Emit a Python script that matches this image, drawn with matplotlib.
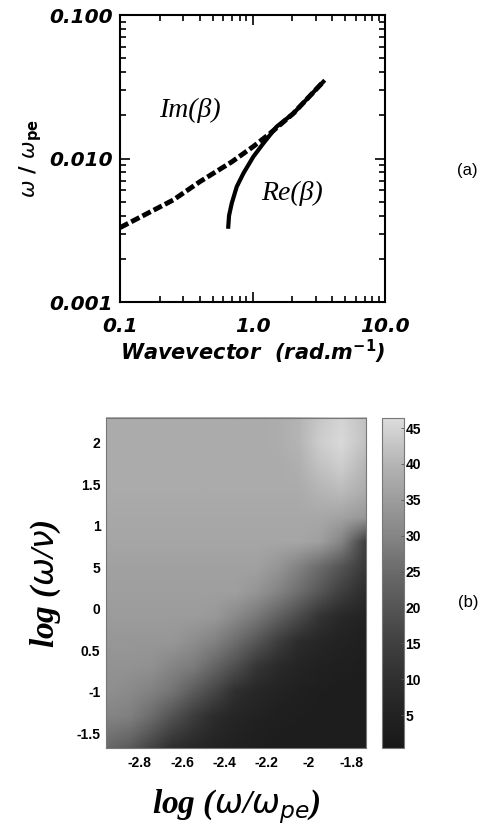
import numpy as np
import matplotlib.pyplot as plt
from matplotlib.colors import LinearSegmentedColormap, Normalize
from matplotlib.image import NonUniformImage
from matplotlib.ticker import LogLocator, FixedLocator, NullFormatter

# (a) dispersion curves
k_im = [0.10, 0.252, 0.40, 0.70, 1.01, 1.36, 2.03, 3.42]
w_im = [0.0033, 0.00514, 0.00689, 0.0095, 0.0121, 0.0150, 0.0206, 0.0343]
k_re = [0.656, 0.665, 0.697, 0.760, 0.853, 1.014, 1.208, 1.52, 2.03, 3.42]
w_re = [0.00335, 0.0040, 0.00488, 0.00636, 0.00788, 0.0103, 0.01277, 0.01667, 0.0206, 0.0343]

# (b) map, node coordinates and values (rows from top to bottom)
map_x = [-2.96, -2.85, -2.75, -2.65, -2.55, -2.45, -2.35, -2.25, -2.15, -2.05, -1.95, -1.85, -1.73]
map_y = [2.3, 2.0, 1.7, 1.4, 1.1, 0.8, 0.5, 0.2, -0.1, -0.4, -0.7, -1.0, -1.3, -1.68]
map_z = [
    [38, 38, 38, 38, 38, 38, 38, 38, 38.5, 40, 43, 45, 42],
    [38, 38, 38, 38, 38, 38, 38, 38, 38.5, 40, 44, 46, 42],
    [38, 38, 38, 38, 38, 38, 38, 38, 38, 39, 42, 44, 40],
    [38, 38, 38, 38, 38, 38, 38, 38, 38, 38, 40, 41, 38],
    [37.5, 37.5, 37.5, 37.5, 37.5, 37.5, 37.5, 37.5, 37.5, 37.5, 37.5, 36.5, 34],
    [37, 37, 37, 37, 37, 37, 37, 37, 37, 37, 35.5, 30, 14],
    [36, 36, 36, 36, 36, 36, 36, 36, 33.7, 29.4, 25.3, 19.9, 12.7],
    [35.5, 35.5, 35.5, 35.5, 35.5, 35.5, 35.5, 33.5, 29.8, 25.8, 20.5, 14.9, 8.5],
    [35, 35, 35, 35, 35, 34.2, 31.3, 27.7, 23, 17.8, 11.2, 7.5, 5.6],
    [34, 34, 34, 34, 32, 29.4, 25.7, 20.3, 14.7, 9, 6.6, 5.2, 4],
    [33, 33, 32.6, 30.2, 28.3, 23.9, 18.6, 12.2, 8, 6.1, 4.8, 3.8, 3.3],
    [32.5, 31.3, 29.5, 26.9, 21.8, 16.8, 9.8, 6.9, 5.6, 4.5, 3.5, 3, 3],
    [30, 29, 25.4, 19.7, 14.3, 8.8, 6.5, 5.1, 4.1, 3.4, 3, 3, 3],
    [25, 21.5, 16.3, 9.7, 6.9, 5.5, 4.4, 3.5, 3, 3, 3, 3, 3],
]
ytick_pos = [2, 1.5, 1, 0.5, 0, -0.5, -1, -1.5]
ytick_lab = ['2', '1.5', '1', '5', '0', '0.5', '-1', '-1.5']
xtick_pos = [-2.8, -2.6, -2.4, -2.2, -2.0, -1.8]
xtick_lab = ['-2.8', '-2.6', '-2.4', '-2.2', '-2', '-1.8']
cb_ticks = [5, 10, 15, 20, 25, 30, 35, 40, 45]

plt.rcParams['mathtext.fontset'] = 'dejavusans'
fig = plt.figure(figsize=(4.81, 8.27), dpi=100)

# ---------- panel (a)
ax = fig.add_axes([0.2495, 0.6348, 0.551, 0.347])
ax.set_xscale('log')
ax.set_yscale('log')
ax.plot(k_im, w_im, color='black', lw=3.5, dashes=(1.9, 0.7), solid_capstyle='butt')
ax.plot(k_re, w_re, color='black', lw=3.0)
ax.set_xlim(0.1, 10)
ax.set_ylim(0.001, 0.1)
ax.xaxis.set_major_locator(FixedLocator([0.1, 1, 10]))
ax.yaxis.set_major_locator(FixedLocator([0.001, 0.01, 0.1]))
ax.xaxis.set_minor_locator(LogLocator(base=10, subs=np.arange(2, 10)))
ax.yaxis.set_minor_locator(LogLocator(base=10, subs=np.arange(2, 10)))
ax.xaxis.set_minor_formatter(NullFormatter())
ax.yaxis.set_minor_formatter(NullFormatter())
ax.set_xticklabels(['0.1', '1.0', '10.0'])
ax.set_yticklabels(['0.001', '0.010', '0.100'])
ax.tick_params(which='both', direction='in', top=True, right=True, width=1.2)
ax.tick_params(which='major', length=7)
ax.tick_params(which='minor', length=4)
ax.tick_params(axis='x', pad=11)
ax.tick_params(axis='y', pad=5)
for lab in ax.get_xticklabels() + ax.get_yticklabels():
    lab.set_fontsize(14.5)
    lab.set_fontweight('bold')
    lab.set_fontstyle('italic')
for s in ax.spines.values():
    s.set_linewidth(1.5)
ax.set_xlabel(r'Wavevector  (rad.m$^{\mathbf{-1}}$)', fontsize=15, fontweight='bold',
              fontstyle='italic', labelpad=1)
ax.set_ylabel(r'$\omega$ / $\omega_{\mathbf{pe}}$', fontsize=15, fontweight='bold', labelpad=4)
ax.text(0.337, 0.0218, 'Im(β)', fontsize=20, family='Liberation Serif', style='italic',
        ha='center', va='center')
ax.text(1.99, 0.00575, 'Re(β)', fontsize=20, family='Liberation Serif', style='italic',
        ha='center', va='center')
fig.text(467 / 481, 1 - 170 / 827, '(a)', fontsize=12, family='Liberation Sans',
         ha='center', va='center')

# ---------- panel (b)
cmap = LinearSegmentedColormap.from_list('scan', [
    (0.0, '#181818'), (0.10, '#222222'), (0.209, '#303030'), (0.32, '#404040'),
    (0.426, '#555555'), (0.535, '#6a6a6a'), (0.643, '#858585'),
    (0.75, '#9c9c9c'), (0.86, '#b4b4b4'), (1.0, '#dcdcdc')])
bx = fig.add_axes([0.2204, 0.0955, 0.5405, 0.399])
img = NonUniformImage(bx, interpolation='bilinear', cmap=cmap,
                      norm=Normalize(vmin=0.4, vmax=46.4),
                      extent=(map_x[0], map_x[-1], map_y[-1], map_y[0]))
img.set_data(np.array(map_x), np.array(map_y[::-1]), np.array(map_z[::-1]))
bx.add_image(img)
bx.set_xlim(-2.96, -1.73)
bx.set_ylim(-1.68, 2.3)
bx.set_xticks(xtick_pos)
bx.set_xticklabels(xtick_lab)
bx.set_yticks(ytick_pos)
bx.set_yticklabels(ytick_lab)
bx.tick_params(length=0, labelsize=10, pad=4)
for lab in bx.get_xticklabels() + bx.get_yticklabels():
    lab.set_family('Liberation Sans')
    lab.set_fontweight('bold')
bx.tick_params(axis='x', pad=6)
for s in bx.spines.values():
    s.set_color('#777777')
    s.set_linewidth(0.8)
bx.set_xlabel(r'log ($\omega$/$\omega_{pe}$)', fontsize=24, family='Liberation Serif',
              fontweight='bold', fontstyle='italic', labelpad=12)
bx.set_ylabel(r'log ($\omega$/$\nu$)', fontsize=24, family='Liberation Serif',
              fontweight='bold', fontstyle='italic', labelpad=10)

cax = fig.add_axes([0.794, 0.0955, 0.0457, 0.399])
cb = fig.colorbar(img, cax=cax, ticks=cb_ticks)
cb.outline.set_edgecolor('#777777')
cb.outline.set_linewidth(0.8)
cax.tick_params(direction='in', length=2, width=0.6, color='#555555', labelsize=10, pad=1)
for lab in cax.get_yticklabels():
    lab.set_family('Liberation Sans')
    lab.set_fontweight('bold')
fig.text(468 / 481, 1 - 603 / 827, '(b)', fontsize=12, family='Liberation Sans',
         ha='center', va='center')

fig.savefig('out.png', dpi=100)
